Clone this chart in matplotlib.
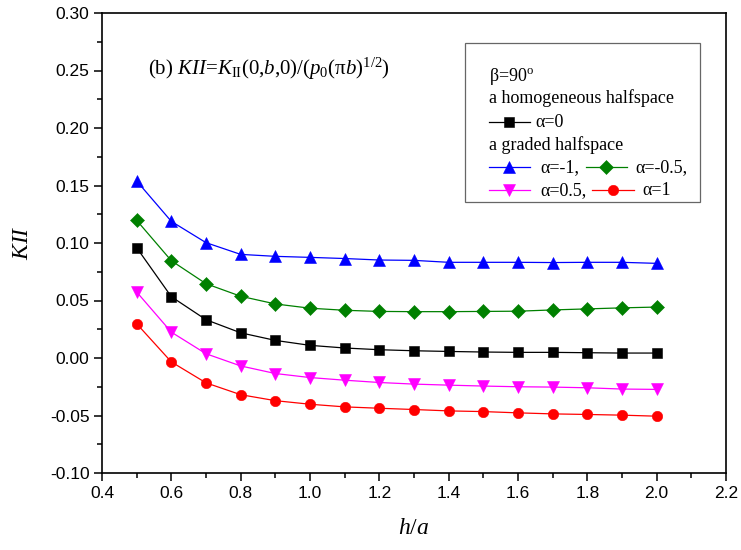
import matplotlib
matplotlib.use("Agg")
import matplotlib.pyplot as plt
import numpy as np
from matplotlib.patches import Rectangle

plt.rcParams['font.family'] = ['Liberation Sans', 'DejaVu Sans']
plt.rcParams['mathtext.fontset'] = 'custom'
plt.rcParams['mathtext.rm'] = 'Liberation Serif'
plt.rcParams['mathtext.it'] = 'Liberation Serif:italic'

# data
h_a = [0.5, 0.6, 0.7, 0.8, 0.9, 1.0, 1.1, 1.2, 1.3, 1.4, 1.5, 1.6, 1.7, 1.8, 1.9, 2.0]
kii_hom = [0.0959, 0.0533, 0.0333, 0.0219, 0.0153, 0.0110, 0.0087, 0.0072, 0.0063, 0.0057,
           0.0052, 0.0049, 0.0049, 0.0046, 0.0043, 0.0043]
kii_m1 = [0.1539, 0.1188, 0.1003, 0.0901, 0.0884, 0.0875, 0.0865, 0.0852, 0.0849, 0.0832,
          0.0832, 0.0832, 0.0830, 0.0832, 0.0832, 0.0823]
kii_m05 = [0.1197, 0.0846, 0.0646, 0.0537, 0.0470, 0.0433, 0.0415, 0.0405, 0.0403, 0.0403,
           0.0405, 0.0407, 0.0418, 0.0427, 0.0436, 0.0443]
kii_p05 = [0.0574, 0.0225, 0.0037, -0.0069, -0.0135, -0.0170, -0.0193, -0.0213, -0.0227, -0.0236,
           -0.0244, -0.0250, -0.0253, -0.0259, -0.0270, -0.0273]
kii_p1 = [0.0298, -0.0034, -0.0216, -0.0319, -0.0371, -0.0402, -0.0425, -0.0437, -0.0448, -0.0460,
          -0.0466, -0.0477, -0.0486, -0.0491, -0.0497, -0.0506]

# series styles
sty_hom = dict(color='black', marker='s', ms=7)
sty_m1 = dict(color='#0000ff', marker='^', ms=9)
sty_m05 = dict(color='#008000', marker='D', ms=7.5)
sty_p05 = dict(color='#ff00ff', marker='v', ms=9)
sty_p1 = dict(color='#ff0000', marker='o', ms=7.5)

fig = plt.figure(figsize=(7.41, 5.5), dpi=100)
ax = fig.add_axes([102/741, 77/550, 624/741, 460/550])

for y, st in [(kii_m1, sty_m1), (kii_m05, sty_m05), (kii_hom, sty_hom),
              (kii_p05, sty_p05), (kii_p1, sty_p1)]:
    ax.plot(h_a, y, lw=0.9, mec=st['color'], mew=0.4, **st)

ax.set_xlim(0.4, 2.2)
ax.set_ylim(-0.10, 0.30)
ax.set_xticks(np.arange(0.4, 2.21, 0.2))
ax.set_yticks(np.arange(-0.10, 0.301, 0.05))
ax.set_xticks(np.arange(0.5, 2.2, 0.2), minor=True)
ax.set_yticks(np.arange(-0.075, 0.3, 0.05), minor=True)
ax.xaxis.set_major_formatter(matplotlib.ticker.FormatStrFormatter('%.1f'))
ax.yaxis.set_major_formatter(matplotlib.ticker.FormatStrFormatter('%.2f'))
ax.tick_params(which='major', direction='out', length=6, width=1.1, labelsize=12.5, pad=3)
ax.tick_params(which='minor', direction='out', length=3.5, width=1.1)
for s in ax.spines.values():
    s.set_linewidth(1.2)

ax.set_xlabel('$h/a$', fontsize=17, labelpad=12)
ax.set_ylabel('$KII$', fontsize=17, labelpad=12)

ax.text(0.073, 0.878,
        r'(b) $KII$=$K_{\mathrm{II}}$(0,$b$,0)/($p_0$(π$b$)$^{1/2}$)',
        transform=ax.transAxes, fontsize=15, family='Liberation Serif', va='center')

# legend box, drawn by hand
ax.add_patch(Rectangle((0.582, 0.589), 0.376, 0.346, transform=ax.transAxes,
                       fill=False, ec='#666666', lw=0.9))
tfont = dict(transform=ax.transAxes, fontsize=13, family='Liberation Serif', va='center')
ax.text(0.620, 0.861, r'β=90$^{\mathrm{o}}$', **tfont)
ax.text(0.620, 0.815, 'a homogeneous halfspace', **tfont)
ax.text(0.620, 0.713, 'a graded halfspace', **tfont)


def key(x0, y, st, label, tx):
    ax.plot([x0, x0 + 0.066], [y, y], transform=ax.transAxes, color=st['color'], lw=0.9)
    ax.plot([x0 + 0.033], [y], transform=ax.transAxes, ls='none', mec=st['color'], mew=0.4, **st)
    ax.text(tx, y, label, **tfont)


key(0.620, 0.763, sty_hom, 'α=0', 0.694)
key(0.620, 0.665, sty_m1, 'α=-1,', 0.702)
key(0.775, 0.665, sty_m05, 'α=-0.5,', 0.855)
key(0.620, 0.615, sty_p05, 'α=0.5,', 0.702)
key(0.786, 0.615, sty_p1, 'α=1', 0.866)

fig.savefig('out.png', dpi=100)
